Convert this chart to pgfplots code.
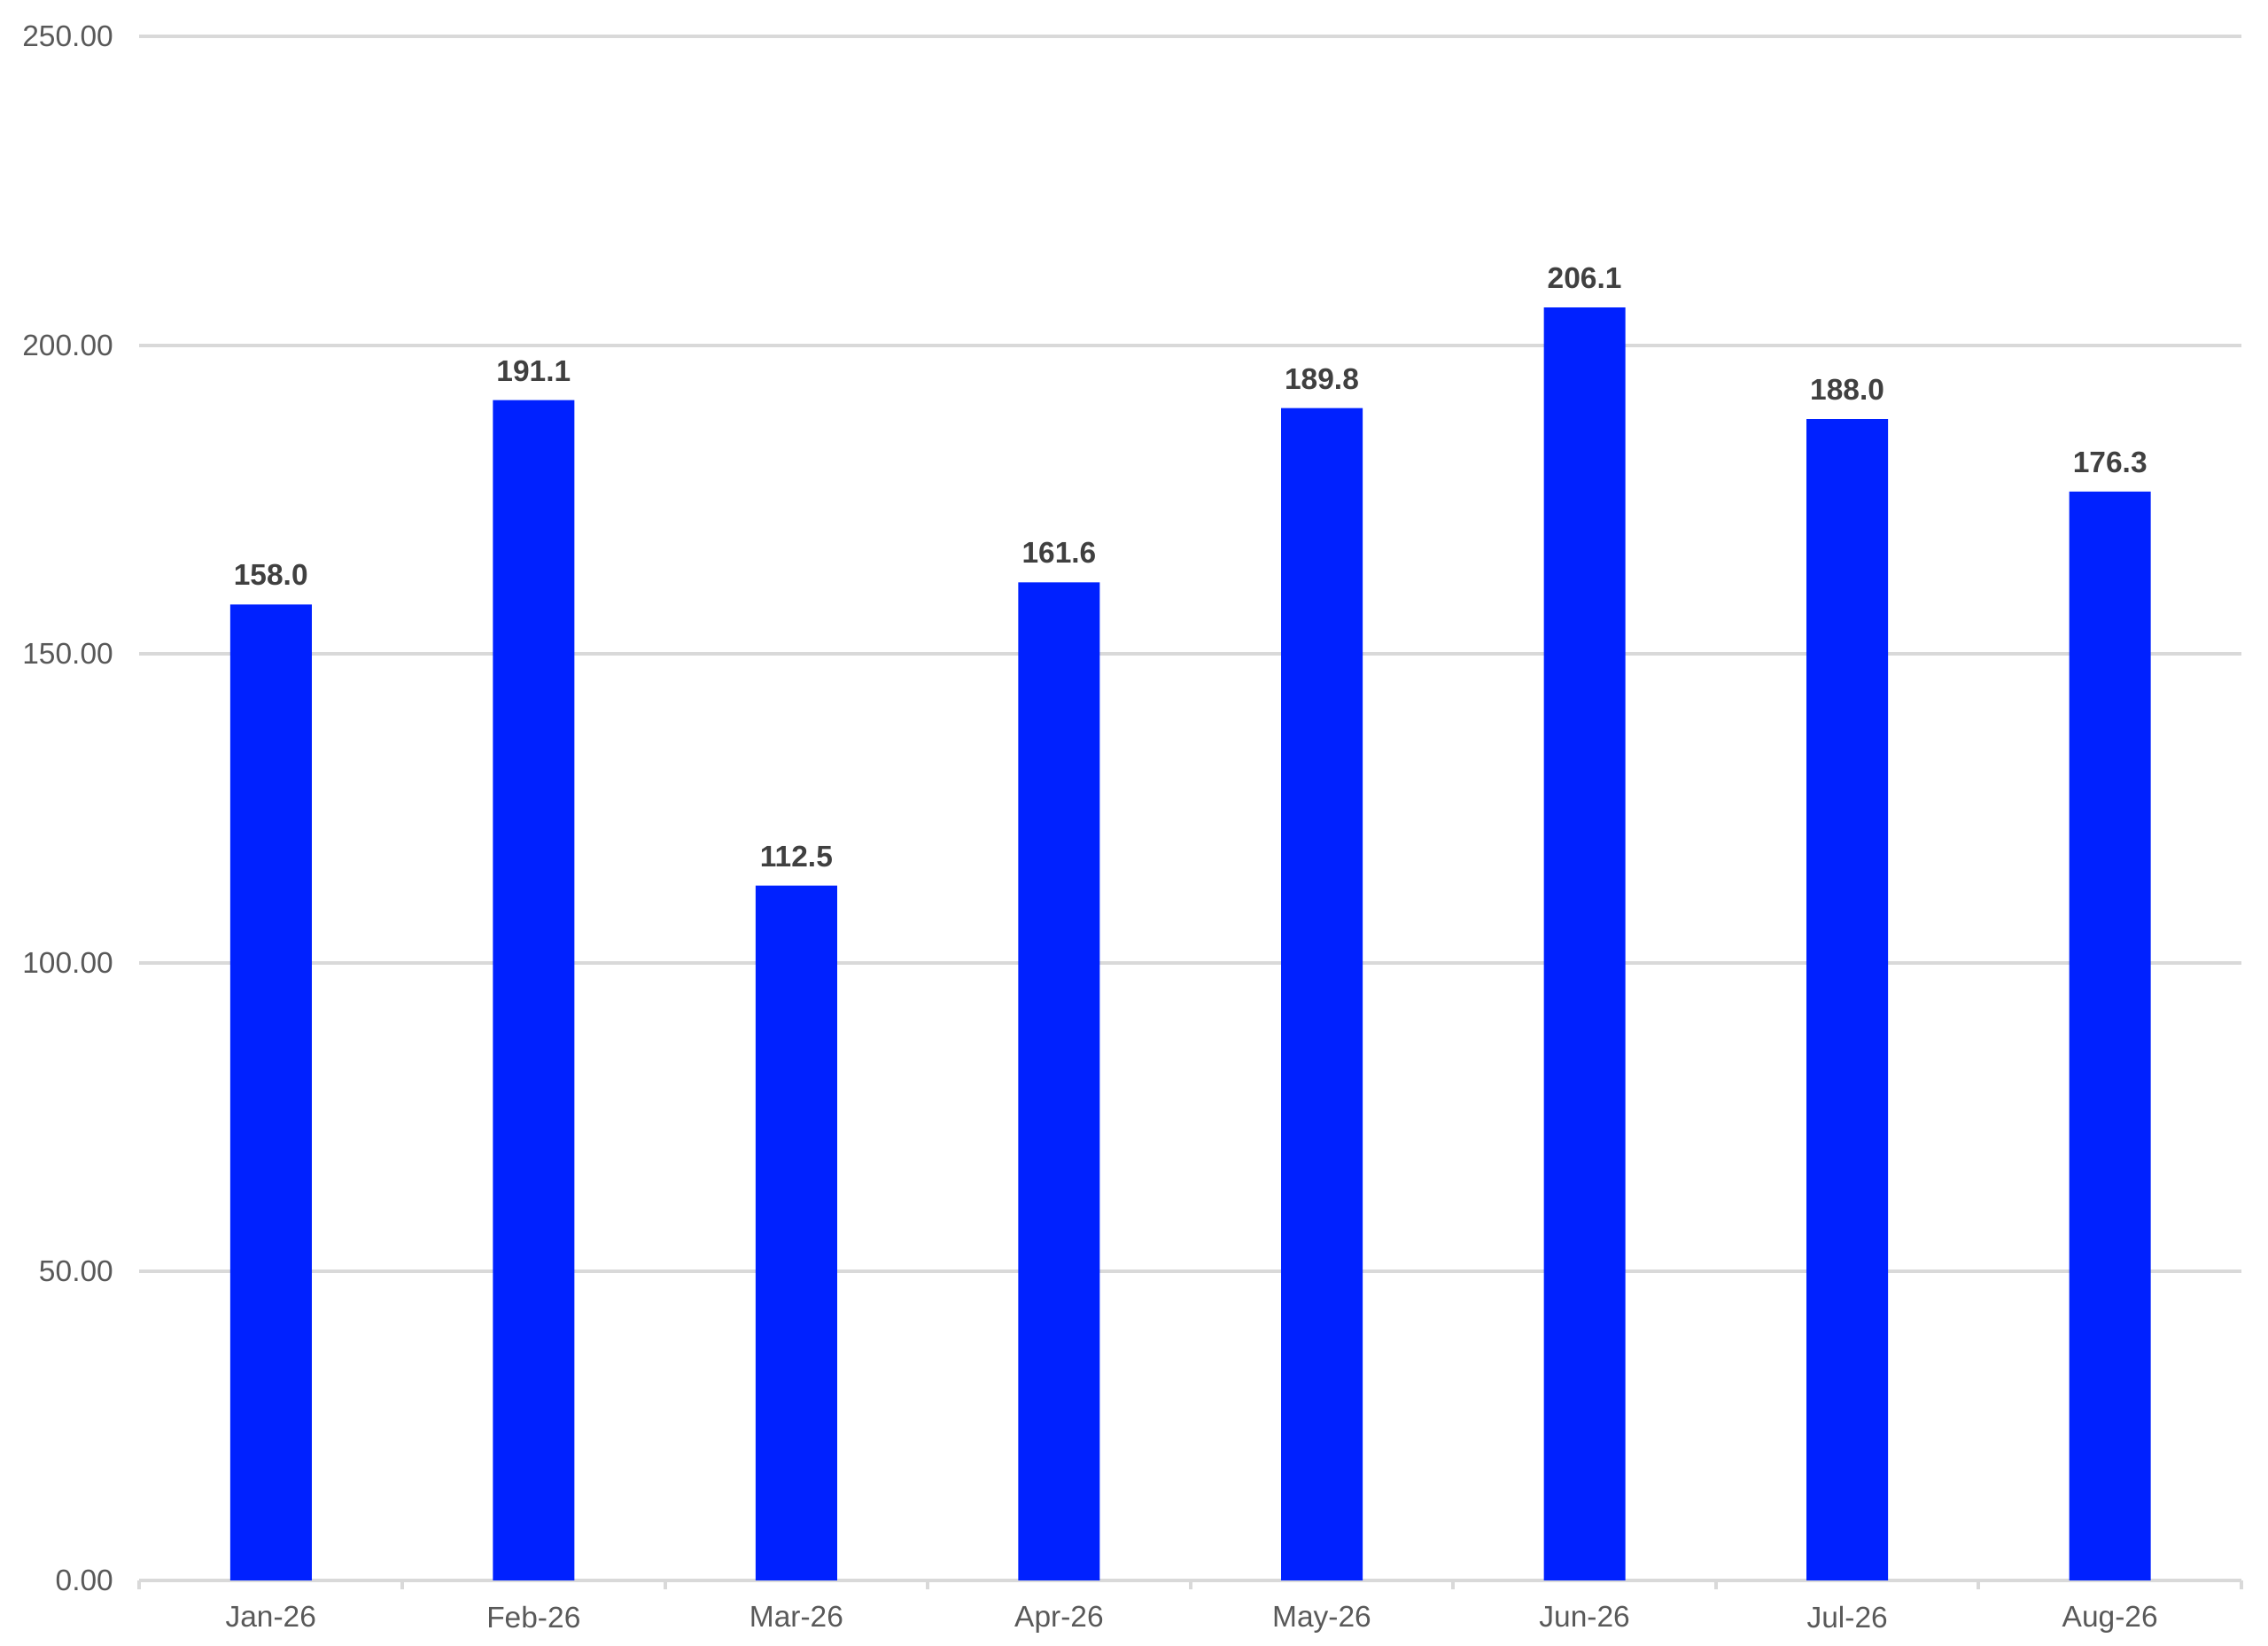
\documentclass[border=0pt]{standalone}
\usepackage{fontspec}
\setmainfont{Liberation Sans}
\usepackage{pgfplots}
\pgfplotsset{compat=1.18}
\definecolor{barblue}{RGB}{0,33,255}
\definecolor{gridgray}{RGB}{217,217,217}
\definecolor{ticktext}{RGB}{89,89,89}
\definecolor{valtext}{RGB}{64,64,64}
\begin{document}
\begin{tikzpicture}
\begin{axis}[
    scale only axis,
    width=474.5pt, height=348.6pt,
    xmin=-0.5, xmax=7.5, ymin=0, ymax=250,
    axis x line*=bottom, axis y line*=left,
    x axis line style={draw=gridgray, thick},
    y axis line style={draw=none},
    xtick={0,...,7},
    xticklabels={Jan-26,Feb-26,Mar-26,Apr-26,May-26,Jun-26,Jul-26,Aug-26},
    minor xtick={-0.5,0.5,...,7.5},
    major tick length=0pt,
    major x tick style={draw=none},
    minor x tick style={draw=gridgray, thick},
    minor tick length=2pt,
    tick align=outside,
    ytick={0,50,...,250},
    ytick style={draw=none},
    ymajorgrids,
    grid style={gridgray, thick},
    /pgf/number format/assume math mode=true,
    yticklabel style={/pgf/number format/fixed, /pgf/number format/fixed zerofill,
        /pgf/number format/precision=2, xshift=-2.4pt},
    ticklabel style={font=\fontsize{6.7}{8}\selectfont, text=ticktext},
    xticklabel style={yshift=-2.3pt},
    ybar, bar width=18.4pt,
    nodes near coords,
    nodes near coords style={font=\fontsize{6.7}{8}\selectfont\bfseries, text=valtext,
        /pgf/number format/fixed, /pgf/number format/fixed zerofill,
        /pgf/number format/precision=1, yshift=0.7pt},
]
\addplot[fill=barblue, draw=none] coordinates {
    (0,158.0) (1,191.1) (2,112.5) (3,161.6) (4,189.8) (5,206.1) (6,188.0) (7,176.3)
};
\end{axis}
\pgfresetboundingbox
\path (current axis.south west) ++(-31.5pt,-14.8pt) rectangle ++(512pt,371.6pt);
\end{tikzpicture}
\end{document}
